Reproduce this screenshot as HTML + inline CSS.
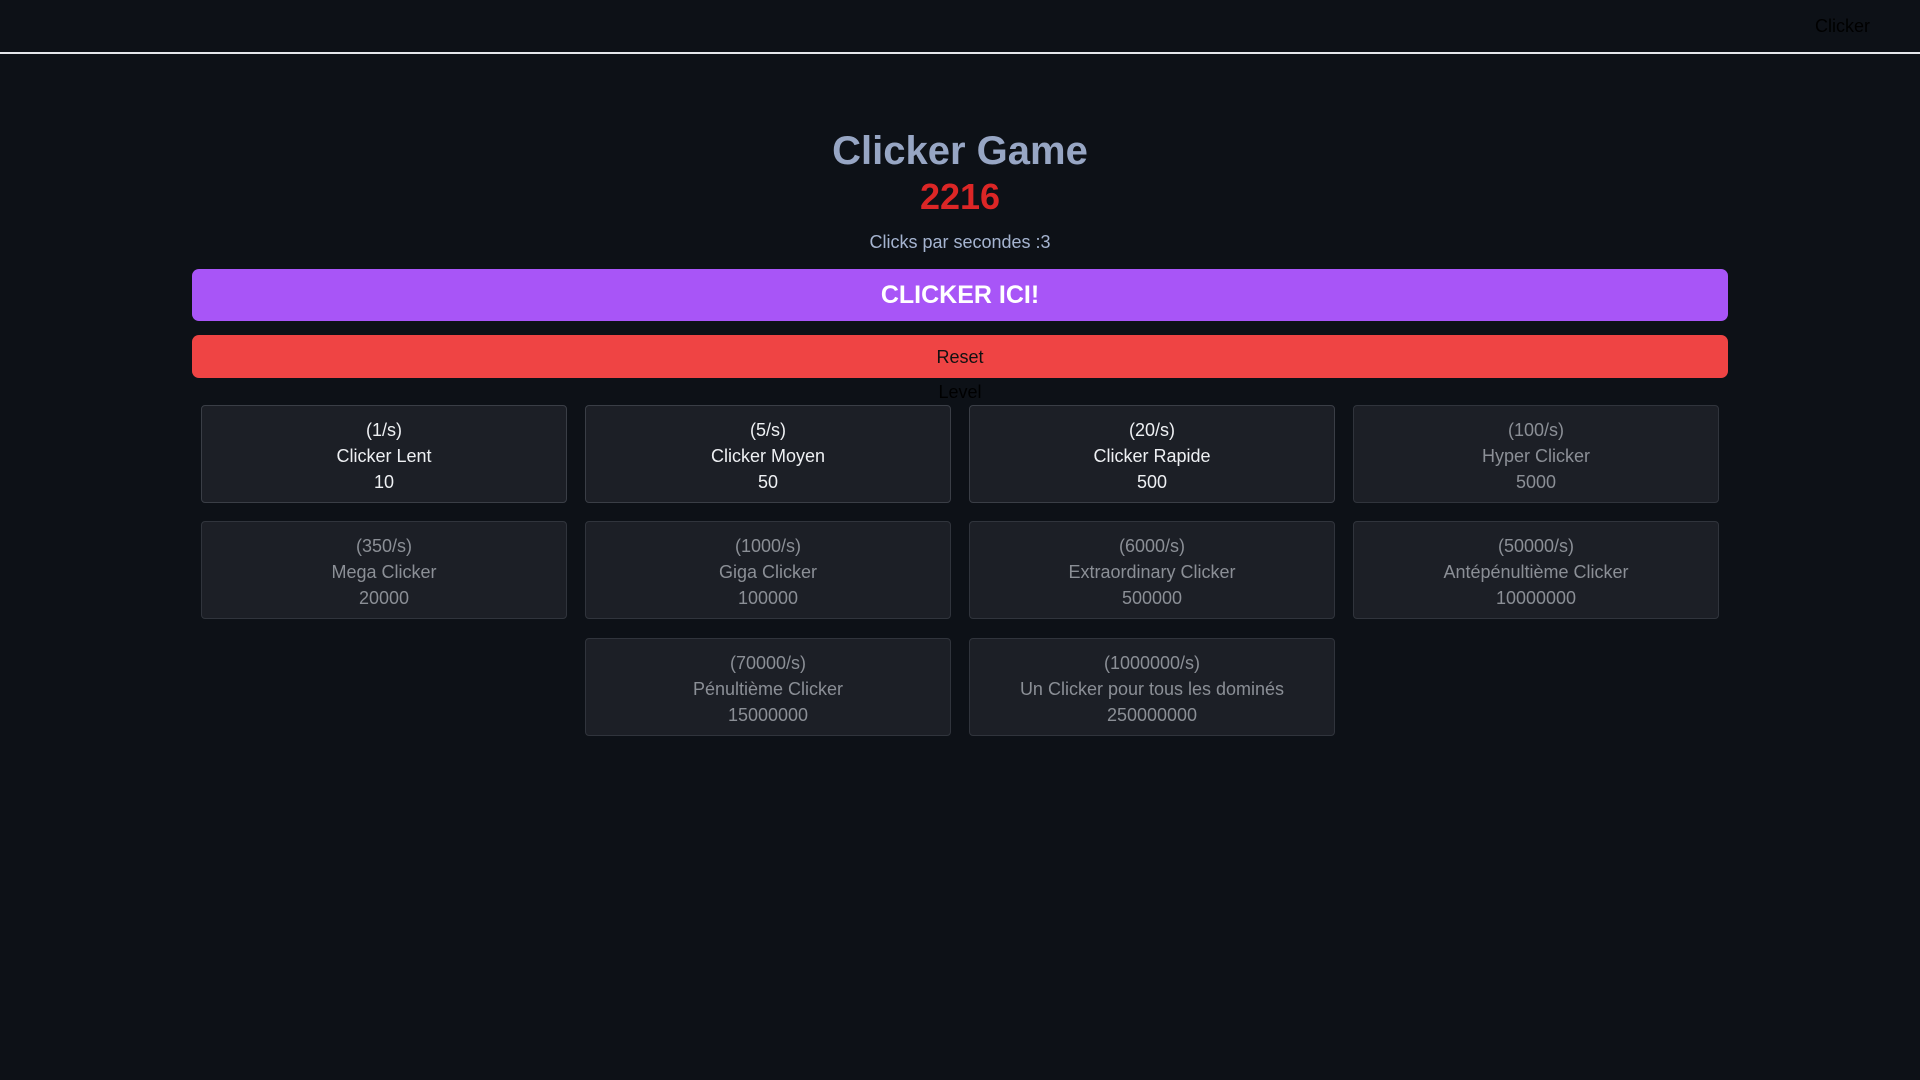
<!DOCTYPE html>
<html><head><meta charset="utf-8"><style>
html,body{margin:0;padding:0;background:#0d1117;width:1920px;height:1080px;overflow:hidden;font-family:"Liberation Sans",sans-serif;}
.hdr{position:absolute;left:0;top:0;width:1920px;height:52px;border-bottom:2px solid #e5e7eb;}
.hdr span{position:absolute;right:50px;top:16px;font-size:18px;color:#000;}
.c{position:absolute;left:0;width:1920px;text-align:center;}
.btn{position:absolute;left:192px;width:1536px;border-radius:7px;text-align:center;}
.card{position:absolute;width:364px;height:96px;background:#1c1f26;border:1px solid #30343c;border-radius:4px;text-align:center;font-size:18px;color:#8b8f96;}
.card.on{color:#eef0f3;border-color:#3a3e46;}
.card div{position:absolute;left:0;width:100%;}
</style></head><body>
<div class="hdr"><span>Clicker</span></div>
<div class="c" style="top:129px;font-size:40px;font-weight:bold;color:#97a6c4;">Clicker Game</div>
<div class="c" style="top:176px;font-size:36px;font-weight:bold;color:#dc2626;">2216</div>
<div class="c" style="top:232px;font-size:18px;color:#a5b4d0;">Clicks par secondes :3</div>
<div class="btn" style="top:269px;height:52px;background:#a855f7;color:#fff;font-weight:bold;font-size:25px;line-height:52px;">CLICKER ICI!</div>
<div class="btn" style="top:335px;height:43px;background:#ef4444;color:#111;font-size:18px;line-height:45px;">Reset</div>
<div class="c" style="top:382px;font-size:18px;color:#000;">Level</div>

<div class="card on" style="left:201px;top:405px"><div style="top:14px">(1/s)</div><div style="top:40px">Clicker Lent</div><div style="top:66px">10</div></div>
<div class="card on" style="left:585px;top:405px"><div style="top:14px">(5/s)</div><div style="top:40px">Clicker Moyen</div><div style="top:66px">50</div></div>
<div class="card on" style="left:969px;top:405px"><div style="top:14px">(20/s)</div><div style="top:40px">Clicker Rapide</div><div style="top:66px">500</div></div>
<div class="card" style="left:1353px;top:405px"><div style="top:14px">(100/s)</div><div style="top:40px">Hyper Clicker</div><div style="top:66px">5000</div></div>

<div class="card" style="left:201px;top:521px"><div style="top:14px">(350/s)</div><div style="top:40px">Mega Clicker</div><div style="top:66px">20000</div></div>
<div class="card" style="left:585px;top:521px"><div style="top:14px">(1000/s)</div><div style="top:40px">Giga Clicker</div><div style="top:66px">100000</div></div>
<div class="card" style="left:969px;top:521px"><div style="top:14px">(6000/s)</div><div style="top:40px">Extraordinary Clicker</div><div style="top:66px">500000</div></div>
<div class="card" style="left:1353px;top:521px"><div style="top:14px">(50000/s)</div><div style="top:40px">Antépénultième Clicker</div><div style="top:66px">10000000</div></div>

<div class="card" style="left:585px;top:638px"><div style="top:14px">(70000/s)</div><div style="top:40px">Pénultième Clicker</div><div style="top:66px">15000000</div></div>
<div class="card" style="left:969px;top:638px"><div style="top:14px">(1000000/s)</div><div style="top:40px">Un Clicker pour tous les dominés</div><div style="top:66px">250000000</div></div>
</body></html>
